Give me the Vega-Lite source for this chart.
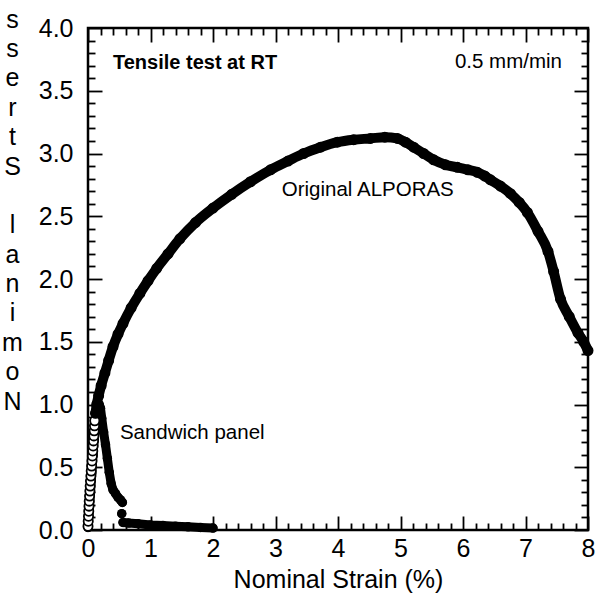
{
  "$schema": "https://vega.github.io/schema/vega-lite/v6.json",
  "width": 500,
  "height": 502,
  "autosize": {"type": "none"},
  "padding": {"left": 88, "top": 28, "right": 17, "bottom": 70},
  "background": "white",
  "config": {
    "view": {"stroke": "black", "strokeWidth": 2.5},
    "font": "Liberation Sans",
    "axis": {
      "domain": false,
      "grid": false,
      "tickColor": "black",
      "tickWidth": 1.8,
      "labelColor": "black",
      "titleColor": "black",
      "labelFont": "Liberation Sans",
      "titleFont": "Liberation Sans",
      "titleFontWeight": "normal",
      "labelFontSize": 25,
      "titleFontSize": 25,
      "labelOverlap": false,
      "labelBound": false
    }
  },
  "datasets": {
    "alporas": [
      {"strain": 0.000, "stress": 0.03}, {"strain": 0.004, "stress": 0.07}, {"strain": 0.008, "stress": 0.11},
      {"strain": 0.012, "stress": 0.15}, {"strain": 0.016, "stress": 0.19}, {"strain": 0.020, "stress": 0.23},
      {"strain": 0.025, "stress": 0.27}, {"strain": 0.030, "stress": 0.31}, {"strain": 0.035, "stress": 0.35},
      {"strain": 0.040, "stress": 0.39}, {"strain": 0.046, "stress": 0.43}, {"strain": 0.052, "stress": 0.47},
      {"strain": 0.058, "stress": 0.51}, {"strain": 0.064, "stress": 0.55}, {"strain": 0.070, "stress": 0.59},
      {"strain": 0.076, "stress": 0.63}, {"strain": 0.082, "stress": 0.67}, {"strain": 0.088, "stress": 0.71},
      {"strain": 0.094, "stress": 0.75}, {"strain": 0.099, "stress": 0.79}, {"strain": 0.104, "stress": 0.83},
      {"strain": 0.108, "stress": 0.87},
      {"strain": 0.12, "stress": 0.93}, {"strain": 0.14, "stress": 1.00}, {"strain": 0.17, "stress": 1.07},
      {"strain": 0.21, "stress": 1.15}, {"strain": 0.27, "stress": 1.25}, {"strain": 0.33, "stress": 1.35},
      {"strain": 0.40, "stress": 1.46}, {"strain": 0.48, "stress": 1.56}, {"strain": 0.56, "stress": 1.645},
      {"strain": 0.69, "stress": 1.77}, {"strain": 0.83, "stress": 1.885}, {"strain": 0.96, "stress": 1.985},
      {"strain": 1.10, "stress": 2.085}, {"strain": 1.28, "stress": 2.20}, {"strain": 1.47, "stress": 2.32},
      {"strain": 1.72, "stress": 2.45}, {"strain": 2.00, "stress": 2.565}, {"strain": 2.30, "stress": 2.675},
      {"strain": 2.60, "stress": 2.775}, {"strain": 2.92, "stress": 2.87}, {"strain": 3.20, "stress": 2.94},
      {"strain": 3.45, "stress": 3.00}, {"strain": 3.72, "stress": 3.05}, {"strain": 3.99, "stress": 3.09},
      {"strain": 4.25, "stress": 3.11}, {"strain": 4.52, "stress": 3.12}, {"strain": 4.75, "stress": 3.13},
      {"strain": 4.95, "stress": 3.12}, {"strain": 5.08, "stress": 3.09}, {"strain": 5.21, "stress": 3.05},
      {"strain": 5.37, "stress": 3.00}, {"strain": 5.53, "stress": 2.95}, {"strain": 5.72, "stress": 2.91},
      {"strain": 5.91, "stress": 2.89}, {"strain": 6.08, "stress": 2.87}, {"strain": 6.23, "stress": 2.85},
      {"strain": 6.35, "stress": 2.82}, {"strain": 6.44, "stress": 2.79}, {"strain": 6.60, "stress": 2.74},
      {"strain": 6.76, "stress": 2.68}, {"strain": 6.90, "stress": 2.61}, {"strain": 7.03, "stress": 2.53},
      {"strain": 7.20, "stress": 2.38}, {"strain": 7.36, "stress": 2.22}, {"strain": 7.45, "stress": 2.06},
      {"strain": 7.56, "stress": 1.84}, {"strain": 7.70, "stress": 1.70}, {"strain": 7.84, "stress": 1.57},
      {"strain": 7.93, "stress": 1.50}, {"strain": 8.00, "stress": 1.43}
    ],
    "sandwich": [
      {"seq": 1, "segment": 1, "strain": 0.00, "stress": 0.02},
      {"seq": 2, "segment": 1, "strain": 0.02, "stress": 0.15},
      {"seq": 3, "segment": 1, "strain": 0.04, "stress": 0.30},
      {"seq": 4, "segment": 1, "strain": 0.06, "stress": 0.45},
      {"seq": 5, "segment": 1, "strain": 0.08, "stress": 0.60},
      {"seq": 6, "segment": 1, "strain": 0.10, "stress": 0.72},
      {"seq": 7, "segment": 1, "strain": 0.12, "stress": 0.83},
      {"seq": 8, "segment": 1, "strain": 0.14, "stress": 0.91},
      {"seq": 9, "segment": 1, "strain": 0.16, "stress": 0.97},
      {"seq": 10, "segment": 1, "strain": 0.18, "stress": 1.00},
      {"seq": 11, "segment": 1, "strain": 0.20, "stress": 0.97},
      {"seq": 12, "segment": 1, "strain": 0.22, "stress": 0.89},
      {"seq": 13, "segment": 1, "strain": 0.25, "stress": 0.78},
      {"seq": 14, "segment": 1, "strain": 0.28, "stress": 0.68},
      {"seq": 15, "segment": 1, "strain": 0.31, "stress": 0.57},
      {"seq": 16, "segment": 1, "strain": 0.34, "stress": 0.46},
      {"seq": 17, "segment": 1, "strain": 0.37, "stress": 0.37},
      {"seq": 18, "segment": 1, "strain": 0.40, "stress": 0.32},
      {"seq": 19, "segment": 1, "strain": 0.44, "stress": 0.29},
      {"seq": 20, "segment": 1, "strain": 0.48, "stress": 0.26},
      {"seq": 21, "segment": 1, "strain": 0.52, "stress": 0.24},
      {"seq": 22, "segment": 1, "strain": 0.55, "stress": 0.22},
      {"seq": 23, "segment": 2, "strain": 0.54, "stress": 0.13},
      {"seq": 24, "segment": 3, "strain": 0.56, "stress": 0.06},
      {"seq": 25, "segment": 3, "strain": 0.65, "stress": 0.055},
      {"seq": 26, "segment": 3, "strain": 0.80, "stress": 0.05},
      {"seq": 27, "segment": 3, "strain": 1.00, "stress": 0.04},
      {"seq": 28, "segment": 3, "strain": 1.20, "stress": 0.035},
      {"seq": 29, "segment": 3, "strain": 1.40, "stress": 0.03},
      {"seq": 30, "segment": 3, "strain": 1.60, "stress": 0.025},
      {"seq": 31, "segment": 3, "strain": 1.80, "stress": 0.02},
      {"seq": 32, "segment": 3, "strain": 2.00, "stress": 0.015}
    ]
  },
  "resolve": {"axis": {"x": "independent", "y": "independent"}},
  "layer": [
    {
      "data": {"name": "sandwich"},
      "mark": {"type": "line", "color": "black", "strokeWidth": 9, "strokeCap": "round", "strokeJoin": "round"},
      "encoding": {
        "x": {"field": "strain", "type": "quantitative", "scale": {"domain": [0, 8], "nice": false},
          "axis": {"orient": "bottom", "values": [0, 1, 2, 3, 4, 5, 6, 7, 8], "format": "d",
            "ticks": true, "tickSize": -14, "labels": true,
            "labelFlush": false, "labelPadding": 40, "labelBaseline": "alphabetic",
            "title": "Nominal Strain (%)", "titleBaseline": "alphabetic", "titleY": 57}},
        "y": {"field": "stress", "type": "quantitative", "scale": {"domain": [0, 4], "nice": false},
          "axis": {"orient": "left", "values": [0, 0.5, 1, 1.5, 2, 2.5, 3, 3.5, 4], "format": ".1f",
            "ticks": true, "tickSize": -14, "labels": true,
            "labelPadding": 29,
            "title": ["s", "s", "e", "r", "t", "S", "\u200b", "l", "a", "n", "i", "m", "o", "N"],
            "titleAngle": 0, "titleAlign": "center", "titleBaseline": "top", "titleX": -76, "titleY": -21, "titleLineHeight": 29.4}},
        "detail": {"field": "segment", "type": "nominal"},
        "order": {"field": "seq", "type": "quantitative"}
      }
    },
    {
      "data": {"name": "sandwich"},
      "mark": {"type": "point", "shape": "circle", "filled": true, "color": "black", "size": 90, "opacity": 1},
      "encoding": {
        "x": {"field": "strain", "type": "quantitative", "scale": {"domain": [0, 8], "nice": false},
          "axis": {"orient": "top", "values": [0, 1, 2, 3, 4, 5, 6, 7, 8],
            "labels": false, "ticks": true, "tickSize": -14, "title": null}},
        "y": {"field": "stress", "type": "quantitative", "scale": {"domain": [0, 4], "nice": false},
          "axis": {"orient": "right", "values": [0, 0.5, 1, 1.5, 2, 2.5, 3, 3.5, 4],
            "labels": false, "ticks": true, "tickSize": -14, "title": null}}
      }
    },
    {
      "data": {"name": "alporas"},
      "mark": {"type": "point", "shape": "circle", "filled": true, "fill": "white", "stroke": "black", "strokeWidth": 1.8, "size": 85, "opacity": 1},
      "encoding": {
        "x": {"field": "strain", "type": "quantitative", "scale": {"domain": [0, 8], "nice": false},
          "axis": {"orient": "top",
            "values": [0.2, 0.4, 0.6, 0.8, 1.2, 1.4, 1.6, 1.8, 2.2, 2.4, 2.6, 2.8, 3.2, 3.4, 3.6, 3.8, 4.2, 4.4, 4.6, 4.8, 5.2, 5.4, 5.6, 5.8, 6.2, 6.4, 6.6, 6.8, 7.2, 7.4, 7.6, 7.8],
            "labels": false, "ticks": true, "tickSize": -7, "title": null}},
        "y": {"field": "stress", "type": "quantitative", "scale": {"domain": [0, 4], "nice": false},
          "axis": {"orient": "right",
            "values": [0.1, 0.2, 0.3, 0.4, 0.6, 0.7, 0.8, 0.9, 1.1, 1.2, 1.3, 1.4, 1.6, 1.7, 1.8, 1.9, 2.1, 2.2, 2.3, 2.4, 2.6, 2.7, 2.8, 2.9, 3.1, 3.2, 3.3, 3.4, 3.6, 3.7, 3.8, 3.9],
            "labels": false, "ticks": true, "tickSize": -7, "title": null}}
      }
    },
    {
      "data": {"name": "alporas"},
      "transform": [{"filter": "datum.strain >= 0.11"}],
      "mark": {"type": "line", "color": "black", "strokeWidth": 10, "strokeCap": "round", "strokeJoin": "round", "interpolate": "monotone"},
      "encoding": {
        "x": {"field": "strain", "type": "quantitative", "scale": {"domain": [0, 8], "nice": false},
          "axis": {"orient": "bottom",
            "values": [0.2, 0.4, 0.6, 0.8, 1.2, 1.4, 1.6, 1.8, 2.2, 2.4, 2.6, 2.8, 3.2, 3.4, 3.6, 3.8, 4.2, 4.4, 4.6, 4.8, 5.2, 5.4, 5.6, 5.8, 6.2, 6.4, 6.6, 6.8, 7.2, 7.4, 7.6, 7.8],
            "labels": false, "ticks": true, "tickSize": -7, "title": null}},
        "y": {"field": "stress", "type": "quantitative", "scale": {"domain": [0, 4], "nice": false},
          "axis": {"orient": "left",
            "values": [0.1, 0.2, 0.3, 0.4, 0.6, 0.7, 0.8, 0.9, 1.1, 1.2, 1.3, 1.4, 1.6, 1.7, 1.8, 1.9, 2.1, 2.2, 2.3, 2.4, 2.6, 2.7, 2.8, 2.9, 3.1, 3.2, 3.3, 3.4, 3.6, 3.7, 3.8, 3.9],
            "labels": false, "ticks": true, "tickSize": -7, "title": null}}
      }
    },
    {
      "data": {"values": [{"strain": 0.40, "stress": 3.72, "label": "Tensile test at RT"}]},
      "mark": {"type": "text", "align": "left", "baseline": "middle", "font": "Liberation Sans", "fontSize": 20, "fontWeight": "bold", "color": "black"},
      "encoding": {
        "x": {"field": "strain", "type": "quantitative", "scale": {"domain": [0, 8], "nice": false}, "axis": null},
        "y": {"field": "stress", "type": "quantitative", "scale": {"domain": [0, 4], "nice": false}, "axis": null},
        "text": {"field": "label", "type": "nominal"}
      }
    },
    {
      "data": {"values": [
        {"strain": 5.87, "stress": 3.73, "label": "0.5 mm/min"},
        {"strain": 3.10, "stress": 2.71, "label": "Original ALPORAS"},
        {"strain": 0.51, "stress": 0.77, "label": "Sandwich panel"}
      ]},
      "mark": {"type": "text", "align": "left", "baseline": "middle", "font": "Liberation Sans", "fontSize": 20.5, "color": "black"},
      "encoding": {
        "x": {"field": "strain", "type": "quantitative", "scale": {"domain": [0, 8], "nice": false}, "axis": null},
        "y": {"field": "stress", "type": "quantitative", "scale": {"domain": [0, 4], "nice": false}, "axis": null},
        "text": {"field": "label", "type": "nominal"}
      }
    }
  ]
}
